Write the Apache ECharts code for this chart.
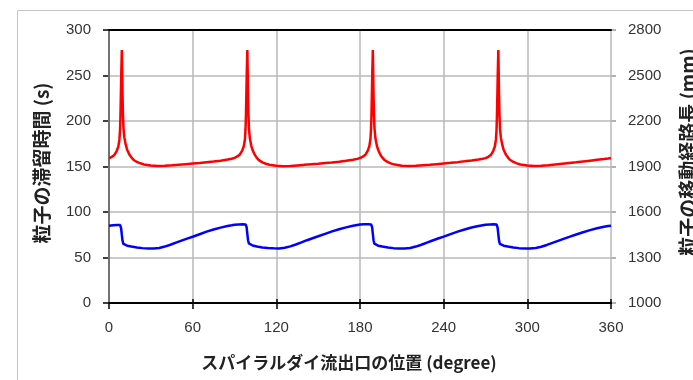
<!DOCTYPE html>
<html>
<head>
<meta charset="utf-8">
<script src="https://cdn.jsdelivr.net/npm/echarts@6/dist/echarts.min.js"></script>
<style>
  html, body { margin: 0; padding: 0; background: #fff; }
  #echarts { width: 693px; height: 380px; }
</style>
</head>
<body>
<div id="echarts"></div>
<script>
// 横軸の目盛り
var xTicks = [0, 60, 120, 180, 240, 300, 360];
var leftTicks = [0, 50, 100, 150, 200, 250, 300];
var rightTicks = [1000, 1300, 1600, 1900, 2200, 2500, 2800];

// 赤線 (滞留時間のピーク)
var redDeg = [
  0, 2, 4, 5.5, 6.7, 7.5, 7.9, 8.2, 8.5, 8.8, 9.2, 9.45, 9.7, 10, 10.4, 11, 12, 13, 14.5, 16, 17.5, 20, 22.5, 25, 30, 35, 40, 45, 50, 55, 60, 65, 70, 75, 80, 85, 88,
  90, 92, 94, 95.5, 96.7, 97.5, 97.9, 98.2, 98.5, 98.8, 99.2, 99.45, 99.7, 100, 100.4, 101, 102, 103, 104.5, 106, 107.5, 110, 112.5, 115, 120, 125, 130, 135, 140, 145, 150, 155, 160, 165, 170, 175, 178,
  180, 182, 184, 185.5, 186.7, 187.5, 187.9, 188.2, 188.5, 188.8, 189.2, 189.45, 189.7, 190, 190.4, 191, 192, 193, 194.5, 196, 197.5, 200, 202.5, 205, 210, 215, 220, 225, 230, 235, 240, 245, 250, 255, 260, 265, 268,
  270, 272, 274, 275.5, 276.7, 277.5, 277.9, 278.2, 278.5, 278.8, 279.2, 279.45, 279.7, 280, 280.4, 281, 282, 283, 284.5, 286, 287.5, 290, 292.5, 295, 300, 305, 310, 315, 320, 325, 330, 335, 340, 345, 350, 355, 358,
  360
];
var redVal = [
  159, 160.5, 163, 167, 172, 180, 190, 205, 228, 252, 278, 255, 230, 208, 192, 182, 174, 168.5, 163.5, 160, 157.5, 155, 153.5, 152.3, 151, 150.5, 150.7, 151.3, 152, 152.6, 153.2, 153.8, 154.6, 155.4, 156.4, 157.6, 158.5,
  159.5, 161, 163.5, 167.5, 172.5, 180, 191, 206, 229, 253, 278, 254, 229, 207, 191, 181, 173, 168, 163, 159.5, 157, 154.5, 153, 152, 150.8, 150.4, 150.6, 151.2, 151.8, 152.5, 153.1, 153.8, 154.5, 155.3, 156.3, 157.4, 158.4,
  159.3, 160.8, 163.2, 167.2, 172.3, 180.5, 190.5, 205, 228, 252, 278, 255, 229, 208, 192, 181.5, 173.5, 168.3, 163.2, 159.8, 157.2, 154.8, 153.2, 152.1, 150.9, 150.5, 150.7, 151.3, 151.9, 152.6, 153.3, 154, 154.8, 155.7, 156.7, 157.8, 158.6,
  159.2, 160.7, 163, 167, 172, 180, 190, 205, 228, 252, 278, 255, 230, 208, 192, 182, 174, 168.5, 163.5, 160, 157.4, 155, 153.4, 152.2, 151, 150.5, 150.7, 151.4, 152.2, 153, 153.8, 154.6, 155.5, 156.4, 157.3, 158.2, 158.8,
  159.3
];

// 青線
var blueDeg = [
  0, 3, 6, 8, 8.7, 9.2, 9.7, 10.3, 11, 13, 16, 20, 24, 28, 32, 36, 40, 44, 48, 52, 56, 60, 65, 70, 75, 80, 85, 88,
  90, 93, 96, 98, 98.7, 99.2, 99.7, 100.3, 101, 103, 106, 110, 114, 118, 122, 126, 130, 134, 138, 142, 146, 150, 155, 160, 165, 170, 175, 178,
  180, 183, 186, 188, 188.7, 189.2, 189.7, 190.3, 191, 193, 196, 200, 204, 208, 212, 216, 220, 224, 228, 232, 236, 240, 245, 250, 255, 260, 265, 268,
  270, 273, 276, 278, 278.7, 279.2, 279.7, 280.3, 281, 283, 286, 290, 294, 298, 302, 306, 310, 314, 318, 322, 326, 330, 335, 340, 345, 350, 355, 358,
  360
];
var blueVal = [
  85, 85.5, 85.8, 85.6, 82, 75, 68.5, 65, 63.8, 63, 62, 61, 60.3, 59.9, 59.9, 60.5, 62, 64, 66.3, 68.6, 70.8, 72.8, 75.6, 78.4, 80.8, 82.8, 84.6, 85.4,
  86, 86.3, 86.5, 86.3, 83, 76, 69, 65.5, 64, 63.2, 62, 61, 60.4, 60.1, 60, 60.7, 62.2, 64.3, 66.6, 69, 71.2, 73.3, 76, 78.7, 81.1, 83.1, 84.9, 85.7,
  86.2, 86.5, 86.6, 86.3, 83, 76, 69, 65.3, 63.8, 63, 62, 61, 60.3, 60, 59.9, 60.5, 62, 64, 66.4, 68.7, 70.9, 73, 75.7, 78.4, 80.8, 82.9, 84.7, 85.5,
  86, 86.3, 86.5, 86.2, 82.5, 75.5, 68.5, 65, 63.8, 63, 62, 61, 60.3, 60, 59.9, 60.4, 61.8, 63.8, 66, 68.3, 70.5, 72.6, 75.3, 77.8, 80.1, 82.1, 83.7, 84.5,
  85
];

function pairs(xs, ys) {
  return xs.map(function (x, i) { return [x, ys[i]]; });
}
function plain(v) { return String(v); }

var numFont = '"Liberation Sans", Arial, sans-serif';
var jpFont = '"Noto Sans CJK JP", sans-serif';
var gridColor = '#b8b8b8';

var xMin = xTicks[0], xMax = xTicks[xTicks.length - 1];
var lMin = leftTicks[0], lMax = leftTicks[leftTicks.length - 1];
var rMin = rightTicks[0], rMax = rightTicks[rightTicks.length - 1];

// 目盛り線だけの軸 (axisTick が出ないので splitLine で描く)
var off = { show: false };
function tickAxis(grid, min, max, interval, color) {
  return {
    type: 'value', gridIndex: grid, min: min, max: max, interval: interval,
    axisLine: off, axisTick: off, axisLabel: off,
    splitLine: { show: true, lineStyle: { color: color, width: 1.5 } }
  };
}
function hiddenAxis(grid) {
  return { type: 'value', gridIndex: grid, min: 0, max: 1, show: false };
}

var myChart = echarts.init(document.getElementById('echarts'));
var option = {
  animation: false,
  grid: [
    { left: 109, right: 82, top: 30, bottom: 77 },
    { left: 103, width: 6, top: 30, bottom: 77 },      // 左の目盛り
    { left: 109, right: 82, top: 299, height: 10 },    // 下の目盛り
    { left: 611, width: 5, top: 30, bottom: 77 }       // 右の目盛り
  ],
  xAxis: [
    {
      type: 'value', min: xMin, max: xMax, interval: 60,
      position: 'bottom',
      axisLine: { show: true, lineStyle: { color: '#000', width: 2 } },
      axisTick: { show: false },
      axisLabel: { padding: [9, 0, 0, 0], color: '#333', fontSize: 15, fontFamily: numFont },
      splitLine: { show: true, lineStyle: { color: gridColor, width: 1.5 } }
    },
    {
      // 上側の枠線
      type: 'value', min: xMin, max: xMax, interval: 60, position: 'top',
      axisLine: { show: true, onZero: false, lineStyle: { color: '#000', width: 2 } },
      axisTick: off, axisLabel: off, splitLine: off
    },
    hiddenAxis(1),
    tickAxis(2, xMin, xMax, 60, '#000'),
    hiddenAxis(3)
  ],
  yAxis: [
    {
      type: 'value', min: lMin, max: lMax, interval: 50,
      position: 'left',
      axisLine: { show: true, lineStyle: { color: '#000', width: 2 } },
      axisTick: { show: false },
      axisLabel: { padding: [0, 10, 0, 0], color: '#333', fontSize: 15, fontFamily: numFont },
      splitLine: { show: true, lineStyle: { color: gridColor, width: 1.5 } }
    },
    {
      type: 'value', min: rMin, max: rMax, interval: 300,
      position: 'right',
      axisLine: { show: true, lineStyle: { color: '#999', width: 1.5 } },
      axisTick: { show: false },
      axisLabel: { padding: [0, 0, 0, 9], color: '#333', fontSize: 15, fontFamily: numFont, formatter: plain },
      splitLine: off
    },
    tickAxis(1, lMin, lMax, 50, '#000'),
    hiddenAxis(2),
    tickAxis(3, rMin, rMax, 300, '#999')
  ],
  graphic: [
    {
      type: 'rect', silent: true,
      shape: { x: 17.5, y: 10.5, width: 800, height: 500 },
      style: { fill: 'none', stroke: '#c4c4c4', lineWidth: 1 }
    },
    {
      type: 'text', x: 42, y: 163, rotation: Math.PI / 2,
      style: { text: '粒子の滞留時間 (s)', font: 'bold 19px ' + jpFont, fill: '#222', align: 'center', verticalAlign: 'middle' }
    },
    {
      type: 'text', x: 688, y: 152, rotation: Math.PI / 2,
      style: { text: '粒子の移動経路長 (mm)', font: 'bold 19px ' + jpFont, fill: '#222', align: 'center', verticalAlign: 'middle' }
    },
    {
      type: 'text', x: 349, y: 363,
      style: { text: 'スパイラルダイ流出口の位置 (degree)', font: 'bold 17px ' + jpFont, fill: '#222', align: 'center', verticalAlign: 'middle' }
    }
  ],
  series: [
    {
      name: '赤', type: 'line', xAxisIndex: 0, yAxisIndex: 0,
      showSymbol: false, symbol: 'none',
      lineStyle: { color: '#ff0000', width: 2.5 },
      data: pairs(redDeg, redVal)
    },
    {
      name: '青', type: 'line', xAxisIndex: 0, yAxisIndex: 0,
      showSymbol: false, symbol: 'none',
      lineStyle: { color: '#0000ff', width: 2.5 },
      data: pairs(blueDeg, blueVal)
    }
  ]
};
myChart.setOption(option);
</script>
</body>
</html>
